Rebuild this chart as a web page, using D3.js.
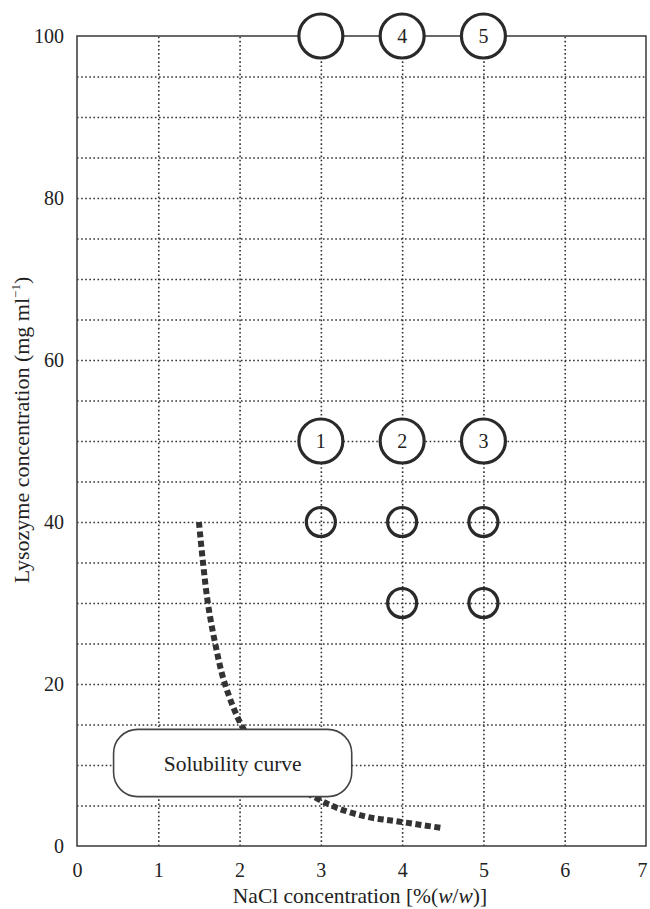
<!DOCTYPE html>
<html>
<head>
<meta charset="utf-8">
<script src="https://cdn.jsdelivr.net/npm/d3@7"></script>
<style>
  body { margin: 0; background: #fff; }
  svg text { font-family: "Liberation Serif", "Times New Roman", serif; fill: #222; }
</style>
</head>
<body>
<svg id="chart"></svg>
<script>
// values
const xTicks = [0, 1, 2, 3, 4, 5, 6, 7];
const yTicks = [0, 20, 40, 60, 80, 100];
const xGrid = [1, 2, 3, 4, 5, 6];
const yGrid = [5, 10, 15, 20, 25, 30, 35, 40, 45, 50, 55, 60, 65, 70, 75, 80, 85, 90, 95];

// large (numbered) experiment points
const bigX = [3, 4, 5, 3, 4, 5];
const bigY = [100, 100, 100, 50, 50, 50];
const bigLabel = ["", "4", "5", "1", "2", "3"];

// small points
const smallX = [3, 4, 5, 4, 5];
const smallY = [40, 40, 40, 30, 30];

// solubility curve
const curveX = [1.5, 1.55, 1.61, 1.7, 1.82, 2.04, 2.3, 2.6, 2.93, 3.2, 3.57, 3.97, 4.5];
const curveY = [40, 35, 30, 25, 20, 14.6, 11, 8, 6, 4.7, 3.6, 3.0, 2.2];

// annotation box, in data units
const noteText = "Solubility curve";
const noteX = [0.45, 3.38];
const noteY = [6.1, 14.4];

const width = 650;
const height = 909;
const margin = {top: 36, right: 4, bottom: 63, left: 77};
const w = width - margin.left - margin.right;
const h = height - margin.top - margin.bottom;

const svg = d3.select("#chart")
              .attr("width", width)
              .attr("height", height);

const g = svg.append("g").attr("transform", `translate(${margin.left},${margin.top})`);

const x = d3.scaleLinear().domain([0, 7]).range([0, w]);
const y = d3.scaleLinear().domain([0, 100]).range([h, 0]);

// dotted grid
g.append("g")
  .attr("class", "gridX")
  .attr("transform", `translate(0,${h})`)
  .call(d3.axisBottom(x).tickValues(xGrid).tickSize(-h).tickFormat(""));
g.append("g")
  .attr("class", "gridY")
  .call(d3.axisLeft(y).tickValues(yGrid).tickSize(-w).tickFormat(""));
g.selectAll(".gridX .domain, .gridY .domain").remove();
g.selectAll(".gridX line, .gridY line")
  .attr("stroke", "#333")
  .attr("stroke-width", 1.6)
  .attr("stroke-dasharray", "1.6,2.5");

// frame
g.append("rect")
  .attr("width", w)
  .attr("height", h)
  .attr("fill", "none")
  .attr("stroke", "#444")
  .attr("stroke-width", 1.6);

// tick labels
const xAxis = g.append("g")
  .attr("transform", `translate(0,${h})`)
  .call(d3.axisBottom(x).tickValues(xTicks).tickFormat(d3.format("d")).tickSize(0).tickPadding(17));
const yAxis = g.append("g")
  .call(d3.axisLeft(y).tickValues(yTicks).tickFormat(d3.format("d")).tickSize(0).tickPadding(13));
[xAxis, yAxis].forEach(a => {
  a.select(".domain").remove();
  a.selectAll("text").attr("font-size", 20).attr("font-family", null);
});
// last label sits at the page edge
xAxis.selectAll("text").filter(d => d === 7).attr("dx", -4);

// solubility curve
const line = d3.line()
  .x(d => x(d[0]))
  .y(d => y(d[1]))
  .curve(d3.curveCatmullRom);
g.append("path")
  .datum(d3.zip(curveX, curveY))
  .attr("fill", "none")
  .attr("stroke", "#333")
  .attr("stroke-width", 6)
  .attr("stroke-dasharray", "6,3.5")
  .attr("d", line);

// annotation box
g.append("rect")
  .attr("x", x(noteX[0]))
  .attr("y", y(noteY[1]))
  .attr("width", x(noteX[1]) - x(noteX[0]))
  .attr("height", y(noteY[0]) - y(noteY[1]))
  .attr("rx", 24)
  .attr("fill", "#fff")
  .attr("stroke", "#444")
  .attr("stroke-width", 1.6);
g.append("text")
  .attr("x", x((noteX[0] + noteX[1]) / 2))
  .attr("y", y((noteY[0] + noteY[1]) / 2))
  .attr("dy", "0.35em")
  .attr("text-anchor", "middle")
  .attr("font-size", 21.5)
  .text(noteText);

// small circles
g.append("g").selectAll("circle")
  .data(d3.zip(smallX, smallY))
  .enter()
  .append("circle")
    .attr("cx", d => x(d[0]))
    .attr("cy", d => y(d[1]))
    .attr("r", 14.5)
    .attr("fill", "none")
    .attr("stroke", "#2a2a2a")
    .attr("stroke-width", 3.2);

// large circles
const big = g.append("g").selectAll("g")
  .data(d3.zip(bigX, bigY, bigLabel))
  .enter()
  .append("g")
    .attr("transform", d => `translate(${x(d[0])},${y(d[1])})`);
big.append("circle")
  .attr("r", 22)
  .attr("fill", "#fff")
  .attr("stroke", "#2a2a2a")
  .attr("stroke-width", 3.2);
big.append("text")
  .attr("dy", "0.35em")
  .attr("text-anchor", "middle")
  .attr("font-size", 20)
  .text(d => d[2]);

// axis titles
svg.append("text")
  .attr("x", 360)
  .attr("y", 903)
  .attr("text-anchor", "middle")
  .attr("font-size", 21.5)
  .html('NaCl concentration [%(<tspan font-style="italic">w</tspan>/<tspan font-style="italic">w</tspan>)]');

svg.append("text")
  .attr("transform", "translate(29,430) rotate(-90)")
  .attr("text-anchor", "middle")
  .attr("font-size", 22)
  .html('Lysozyme concentration (mg ml<tspan font-size="13" dy="-9">\u22121</tspan><tspan dy="9">)</tspan>');
</script>
</body>
</html>
